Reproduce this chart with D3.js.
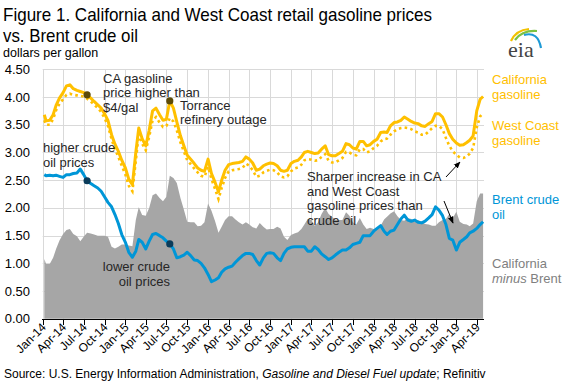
<!DOCTYPE html>
<html>
<head>
<meta charset="utf-8">
<script src="https://cdnjs.cloudflare.com/ajax/libs/d3/7.8.5/d3.min.js"></script>
<style>
  body { margin: 0; background: #fff; }
  svg { font-family: "Liberation Sans", Arial, sans-serif; }
</style>
</head>
<body>
<div id="chart"></div>
<script>
// half-month sample dates, Jan 2014 - Apr 2019
var dates = [];
for (var yr = 2014; yr <= 2019; yr++) {
  for (var mo = 0; mo < 12; mo++) {
    if (yr === 2019 && mo > 3) break;
    dates.push(new Date(Date.UTC(yr, mo, 1)));
    dates.push(new Date(Date.UTC(yr, mo, 16)));
  }
}
dates[0] = new Date(Date.UTC(2014, 0, 8));
dates.push(new Date(Date.UTC(2019, 3, 29)));

// California retail gasoline ($/gal)
var california = [
  3.68, 3.57, 3.58, 3.68, 3.85, 3.98, 4.08, 4.20, 4.22, 4.15, 4.12, 4.10,
  4.08, 4.04, 3.98, 3.92, 3.86, 3.80, 3.70, 3.58, 3.32, 3.15, 3.02, 2.86,
  2.72, 2.52, 2.42, 3.00, 3.44, 3.25, 3.12, 3.40, 3.75, 3.80, 3.68, 3.58,
  3.60, 3.93, 3.80, 3.55, 3.30, 3.12, 2.95, 2.88, 2.80, 2.72, 2.68, 2.66,
  2.88, 2.62, 2.46, 2.29, 2.50, 2.68, 2.78, 2.80, 2.81, 2.82, 2.84, 2.92,
  2.88, 2.81, 2.68, 2.70, 2.76, 2.79, 2.81, 2.80, 2.76, 2.68, 2.66, 2.68,
  2.80, 2.84, 2.86, 2.92, 3.00, 3.02, 3.00, 2.98, 2.99, 3.06, 3.12, 2.96,
  2.94, 2.94, 2.98, 3.02, 3.16, 3.14, 3.08, 3.06, 3.20, 3.20, 3.12, 3.14,
  3.20, 3.24, 3.36, 3.37, 3.36, 3.48, 3.54, 3.55, 3.58, 3.64, 3.60, 3.56,
  3.53, 3.52, 3.48, 3.47, 3.52, 3.56, 3.70, 3.70, 3.64, 3.50, 3.34, 3.24,
  3.17, 3.13, 3.14, 3.18, 3.22, 3.30, 3.75, 3.96,
  4.01
];

// West Coast retail gasoline ($/gal)
var westCoast = [
  3.58, 3.50, 3.50, 3.60, 3.76, 3.88, 3.96, 4.04, 4.06, 4.04, 4.03, 4.02,
  4.01, 3.97, 3.92, 3.86, 3.80, 3.73, 3.62, 3.48, 3.24, 3.06, 2.92, 2.76,
  2.60, 2.40, 2.30, 2.85, 3.33, 3.16, 3.04, 3.28, 3.58, 3.64, 3.54, 3.46,
  3.48, 3.62, 3.56, 3.40, 3.18, 3.02, 2.86, 2.79, 2.71, 2.64, 2.58, 2.56,
  2.74, 2.52, 2.34, 2.16, 2.36, 2.54, 2.66, 2.68, 2.69, 2.70, 2.72, 2.80,
  2.76, 2.68, 2.56, 2.58, 2.64, 2.67, 2.69, 2.68, 2.64, 2.57, 2.55, 2.57,
  2.66, 2.71, 2.73, 2.78, 2.86, 2.88, 2.87, 2.85, 2.86, 2.92, 2.97, 2.85,
  2.82, 2.82, 2.86, 2.90, 3.01, 3.00, 2.96, 2.95, 3.06, 3.06, 3.00, 3.02,
  3.08, 3.12, 3.20, 3.24, 3.25, 3.32, 3.38, 3.42, 3.44, 3.45, 3.44, 3.42,
  3.38, 3.36, 3.32, 3.32, 3.38, 3.44, 3.48, 3.48, 3.42, 3.26, 3.12, 3.02,
  2.96, 2.91, 2.90, 2.93, 2.98, 3.08, 3.45, 3.65,
  3.71
];

// Brent crude oil ($/gal)
var brent = [
  2.60, 2.58, 2.59, 2.58, 2.59, 2.57, 2.55, 2.60, 2.60, 2.62, 2.63, 2.70,
  2.60, 2.49, 2.44, 2.40, 2.36, 2.30, 2.20, 2.10, 2.02, 1.88, 1.72, 1.52,
  1.38, 1.20, 1.11, 1.22, 1.43, 1.38, 1.26, 1.40, 1.52, 1.54, 1.50, 1.46,
  1.40, 1.35, 1.26, 1.10, 1.12, 1.15, 1.20, 1.14, 1.06, 1.05, 1.00, 0.92,
  0.80, 0.67, 0.70, 0.74, 0.84, 0.90, 0.93, 0.95, 1.02, 1.08, 1.14, 1.18,
  1.18, 1.16, 1.05, 0.97, 1.10, 1.18, 1.19, 1.18, 1.10, 1.05, 1.18, 1.26,
  1.29, 1.30, 1.30, 1.30, 1.30, 1.22, 1.22, 1.30, 1.25, 1.17, 1.12, 1.07,
  1.10, 1.15, 1.20, 1.24, 1.24, 1.28, 1.34, 1.36, 1.38, 1.50, 1.50, 1.50,
  1.58, 1.63, 1.68, 1.58, 1.52, 1.58, 1.60, 1.70, 1.80, 1.87, 1.78, 1.76,
  1.78, 1.74, 1.73, 1.76, 1.82, 1.88, 2.02, 1.96, 1.86, 1.70, 1.45, 1.42,
  1.24, 1.38, 1.43, 1.48, 1.55, 1.58, 1.63, 1.70,
  1.75
];

var yTicks = [0, 0.5, 1, 1.5, 2, 2.5, 3, 3.5, 4, 4.5];

// annotation dots: index into the date array
var caDots = [13, 37];
var brentDots = [13, 37];

var svgWidth = 576;
var svgHeight = 384;

var svg = d3.select("#chart")
  .append("svg")
  .attr("width", svgWidth)
  .attr("height", svgHeight);

var x = d3.scaleUtc()
  .domain([new Date(Date.UTC(2014, 0, 1)), new Date(Date.UTC(2019, 4, 3))])
  .range([42.7, 484]);

var y = d3.scaleLinear()
  .domain([0, 4.5])
  .range([318.8, 69.3]);

var quarterTicks = d3.utcMonth.every(3).range(new Date(Date.UTC(2014, 0, 1)), new Date(Date.UTC(2019, 4, 2)));
var fmt = d3.utcFormat("%b-%y");

// title
var title = svg.append("g").attr("fill", "#000").style("font-size", "18.5px");
title.append("text").attr("x", 3).attr("y", 21)
  .attr("textLength", 429).attr("lengthAdjust", "spacingAndGlyphs")
  .text("Figure 1. California and West Coast retail gasoline prices");
title.append("text").attr("x", 3).attr("y", 42)
  .attr("textLength", 135).attr("lengthAdjust", "spacingAndGlyphs")
  .text("vs. Brent crude oil");

svg.append("text").attr("x", 3).attr("y", 57)
  .style("font-size", "12.5px")
  .text("dollars per gallon");

// gridlines
var grid = svg.append("g").attr("stroke", "#d9d9d9").attr("stroke-width", 1);
grid.selectAll(".h").data(yTicks).enter().append("line")
  .attr("x1", 42.7).attr("x2", 484)
  .attr("y1", d => Math.round(y(d)) + 0.5).attr("y2", d => Math.round(y(d)) + 0.5);
grid.selectAll(".v").data(quarterTicks).enter().append("line")
  .attr("x1", d => Math.round(x(d)) + 0.5).attr("x2", d => Math.round(x(d)) + 0.5)
  .attr("y1", y(4.5)).attr("y2", y(0));

// California minus Brent area
var spread = dates.map((d, i) => ({ date: d, v: california[i] - brent[i] }));
svg.append("path")
  .datum(spread)
  .attr("fill", "#a6a6a6")
  .attr("d", d3.area().x(d => x(d.date)).y0(y(0)).y1(d => y(d.v)));

var line = d3.line().x((d, i) => x(dates[i])).y(d => y(d));

svg.append("path").datum(westCoast)
  .attr("fill", "none").attr("stroke", "#ffc000")
  .attr("stroke-width", 2.6).attr("stroke-dasharray", "2.6,3.2")
  .attr("d", line);

svg.append("path").datum(california)
  .attr("fill", "none").attr("stroke", "#ffc000")
  .attr("stroke-width", 3).attr("stroke-linejoin", "round")
  .attr("d", line);

svg.append("path").datum(brent)
  .attr("fill", "none").attr("stroke", "#0096d7")
  .attr("stroke-width", 3).attr("stroke-linejoin", "round")
  .attr("d", line);

// annotation dots
svg.selectAll(".cadot").data(caDots).enter().append("circle")
  .attr("cx", i => x(dates[i])).attr("cy", i => y(california[i]))
  .attr("r", 3.6).attr("fill", "#5c4a08");
svg.selectAll(".brdot").data(brentDots).enter().append("circle")
  .attr("cx", i => x(dates[i])).attr("cy", i => y(brent[i]))
  .attr("r", 3.6).attr("fill", "#0b3c5a");

// y axis labels
svg.append("g").selectAll("text").data(yTicks).enter().append("text")
  .attr("x", 30).attr("y", d => y(d) + 4.5)
  .attr("text-anchor", "end")
  .style("font-size", "13px")
  .attr("fill", "#000")
  .text(d => d.toFixed(2));

// x axis
var xAxis = svg.append("g");
xAxis.append("line")
  .attr("x1", 42).attr("x2", 484)
  .attr("y1", 319.5).attr("y2", 319.5)
  .attr("stroke", "#000");
xAxis.selectAll(".tick").data(quarterTicks).enter().append("line")
  .attr("x1", d => Math.round(x(d)) + 0.5).attr("x2", d => Math.round(x(d)) + 0.5)
  .attr("y1", 319.5).attr("y2", 325)
  .attr("stroke", "#000");
xAxis.selectAll("text").data(quarterTicks).enter().append("text")
  .attr("transform", d => `translate(${x(d) + 4}, 328) rotate(-45)`)
  .attr("text-anchor", "end")
  .style("font-size", "12px")
  .text(d => fmt(d));

// series labels on the right
var lab = svg.append("g").style("font-size", "13px");
function multi(g, xPos, yPos, lines, color, anchor) {
  var t = g.append("text").attr("x", xPos).attr("y", yPos).attr("fill", color)
    .attr("text-anchor", anchor || "start");
  lines.forEach(function(s, k) {
    t.append("tspan").attr("x", xPos).attr("dy", k === 0 ? 0 : 14.5).text(s);
  });
  return t;
}
multi(lab, 492, 84, ["California", "gasoline"], "#ffc000");
multi(lab, 492, 130, ["West Coast", "gasoline"], "#ffc000");
multi(lab, 492, 204, ["Brent crude", "oil"], "#0096d7");
var cmb = lab.append("text").attr("x", 492).attr("y", 268).attr("fill", "#7f7f7f");
cmb.append("tspan").attr("x", 492).text("California");
cmb.append("tspan").attr("x", 492).attr("dy", 14.5).style("font-style", "italic").text("minus");
cmb.append("tspan").text(" Brent");

// annotations
var ann = svg.append("g").style("font-size", "13px").attr("fill", "#262626");
multi(ann, 103, 82.5, ["CA gasoline", "price higher than", "$4/gal"], "#262626");
multi(ann, 180, 109.5, ["Torrance", "refinery outage"], "#262626");
multi(ann, 43, 152, ["higher crude", "oil prices"], "#262626");
multi(ann, 170, 271, ["lower crude", "oil prices"], "#262626", "end");
multi(ann, 307, 181, ["Sharper increase in CA", "and West Coast", "gasoline prices than", "crude oil"], "#262626");

svg.append("defs").append("marker")
  .attr("id", "arrow").attr("viewBox", "0 0 10 10")
  .attr("refX", 9).attr("refY", 5)
  .attr("markerWidth", 7).attr("markerHeight", 7)
  .attr("orient", "auto")
  .append("path").attr("d", "M0,1 L10,5 L0,9 z").attr("fill", "#000");

svg.append("line").attr("x1", 446).attr("y1", 177).attr("x2", 460).attr("y2", 162)
  .attr("stroke", "#000").attr("stroke-width", 1).attr("marker-end", "url(#arrow)");
svg.append("line").attr("x1", 444).attr("y1", 201).attr("x2", 453).attr("y2", 223)
  .attr("stroke", "#000").attr("stroke-width", 1).attr("marker-end", "url(#arrow)");

// source
var src = svg.append("text").attr("x", 4).attr("y", 378).style("font-size", "12px").attr("fill", "#000");
src.append("tspan").text("Source: U.S. Energy Information Administration, ");
src.append("tspan").style("font-style", "italic").text("Gasoline and Diesel Fuel update");
src.append("tspan").text("; Refinitiv");

// eia logo
var logo = svg.append("g");
logo.append("path").attr("d", "M511,41 Q516,30 529,29").attr("fill", "none")
  .attr("stroke", "#f2c200").attr("stroke-width", 2.2);
logo.append("path").attr("d", "M515,40 Q522,30 537,31").attr("fill", "none")
  .attr("stroke", "#7cc242").attr("stroke-width", 2.2);
logo.append("path").attr("d", "M524,35 Q538,31 541,48").attr("fill", "none")
  .attr("stroke", "#1e9ad6").attr("stroke-width", 2.2);
logo.append("text").attr("x", 508).attr("y", 57)
  .style("font-family", "'Liberation Serif', 'DejaVu Serif', serif")
  .style("font-size", "22px").attr("fill", "#444")
  .text("eia");
</script>
</body>
</html>
